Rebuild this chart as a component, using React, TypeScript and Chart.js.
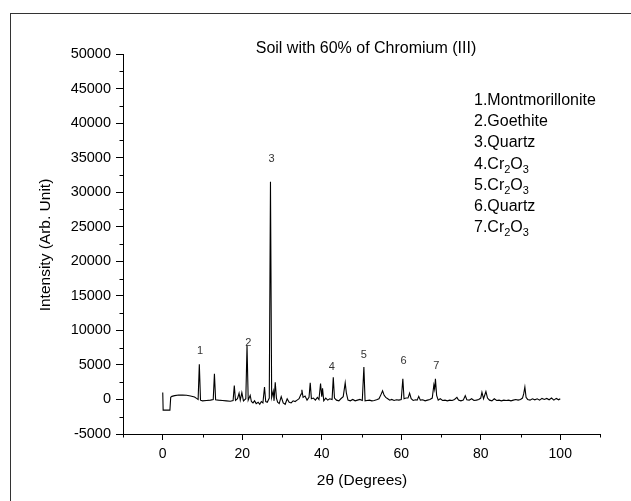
import React, { useEffect, useRef } from "react";
import { Chart, registerables } from "chart.js";

Chart.register(...registerables);

// 2θ (degrees)
const X_DEG: number[] = [
  0, 0.1, 1.8, 2.0, 2.3, 3, 4, 5, 6, 7, 8, 8.5, 8.9, 9.2, 9.5, 10, 11, 12, 12.7, 13.0,
  13.3, 14, 15, 16, 17, 17.7, 18.0, 18.3, 18.8, 19.2, 19.5, 19.9, 20.3, 20.9, 21.2, 21.5, 22.0, 22.3, 22.7, 23.1,
  23.5, 24.0, 24.4, 24.8, 25.2, 25.6, 25.9, 26.3, 26.8, 27.1, 27.4, 27.8, 28.0, 28.3, 28.6, 28.9, 29.3, 29.8, 30.3, 30.8,
  31.3, 31.8, 32.3, 32.8, 33.3, 33.8, 34.3, 34.8, 35.0, 35.3, 35.8, 36.3, 36.8, 37.1, 37.4, 37.9, 38.4, 38.9, 39.3, 39.7,
  40.0, 40.2, 40.5, 41.0, 41.5, 42.0, 42.6, 42.9, 43.2, 43.7, 44.3, 44.8, 45.4, 45.9, 46.2, 46.6, 47.2, 47.8, 48.4, 49.0,
  49.6, 50.2, 50.6, 50.9, 51.4, 52.0, 52.6, 53.2, 53.8, 54.4, 54.9, 55.3, 55.7, 56.1, 56.6, 57.1, 57.6, 58.2, 58.8, 59.4,
  60.0, 60.4, 60.7, 61.2, 61.7, 62.1, 62.5, 63.0, 63.6, 64.0, 64.4, 64.8, 65.4, 66.0, 66.6, 67.2, 67.8, 68.2, 68.4, 68.6,
  68.9, 69.3, 69.8, 70.4, 71.0, 71.6, 72.2, 72.8, 73.4, 74.0, 74.4, 75.0, 75.6, 76.1, 76.5, 77.1, 77.7, 78.3, 78.9, 79.5,
  80.0, 80.3, 80.7, 81.3, 81.7, 82.2, 82.8, 83.4, 84.0, 84.6, 85.2, 85.8, 86.4, 87.0, 87.6, 88.2, 88.8, 89.4, 90.0, 90.5,
  90.8, 91.1, 91.4, 91.8, 92.4, 93.0, 93.6, 94.2, 94.8, 95.4, 96.0, 96.6, 97.2, 97.8, 98.4, 99.0, 99.6, 100,
];

// Intensity (Arb. Unit)
const INTENSITY: number[] = [
  1000, -1550, -1550, 300, 450, 550, 650, 620, 600, 500, 350, 150, 0, 5100, -100, -200, -150, -100, 0, 3700,
  -50, -100, -150, -200, -250, -150, 2000, -150, 100, 900, -100, 1000, -200, 100, 7800, -100, 600, -300, -500, -200,
  -600, -400, -700, -300, -500, 1800, -300, -400, 200, 31500, 300, 1200, -200, 2500, 200, -400, -600, 400, -500, -700,
  100, -400, -500, -200, -300, -100, 100, 800, 1400, 300, 500, -100, 300, 2400, 100, 200, -100, 300, 0, 2300,
  400, 1600, -200, 200, -100, 100, 0, 3200, 200, -100, -200, 100, 400, 2400, 900, -100, -200, 0, -200, -100,
  0, -150, 4700, -200, -150, -100, -200, -150, -50, 100, 700, 1250, 600, 300, 100, -100, 0, -150, -50, -100,
  0, 3000, 100, 200, 200, 900, 100, -150, -50, -100, 450, -100, -50, -200, -100, 0, 200, 2100, 1500, 3000,
  600, -100, 100, -150, -100, -200, -100, -150, 0, 300, -100, -200, -100, 550, -50, -100, 100, -150, -100, 0,
  200, 1050, 100, 1150, 200, -100, -200, 100, -150, -100, -200, -100, -150, -100, -200, -100, 0, -100, 0, 200,
  800, 1800, 300, 0, -100, 100, -50, 100, -100, 150, 0, 150, -50, 200, -100, 150, -50, 100,
];

// Peak annotations (number, 2θ position, intensity position)
const PEAK_IDS: string[] = ["1", "2", "3", "4", "5", "6", "7"];
const PEAK_LABEL_X: number[] = [9.4, 21.5, 27.4, 42.5, 50.6, 60.6, 68.8];
const PEAK_LABEL_Y: number[] = [7040, 8200, 34800, 4720, 6410, 5590, 4820];

// Phase list (text segments, second element true = subscript)
const PHASES: [string, boolean][][] = [
  [["1.Montmorillonite", false]],
  [["2.Goethite", false]],
  [["3.Quartz", false]],
  [["4.Cr", false], ["2", true], ["O", false], ["3", true]],
  [["5.Cr", false], ["2", true], ["O", false], ["3", true]],
  [["6.Quartz", false]],
  [["7.Cr", false], ["2", true], ["O", false], ["3", true]],
];

const X_TICKS: number[] = [0, 20, 40, 60, 80, 100];
const X_MINOR: number[] = [-10, 10, 30, 50, 70, 90, 110];
const Y_TICKS: number[] = [-5000, 0, 5000, 10000, 15000, 20000, 25000, 30000, 35000, 40000, 45000, 50000];
const Y_MINOR: number[] = [-2500, 2500, 7500, 12500, 17500, 22500, 27500, 32500, 37500, 42500, 47500];

const TITLE = "Soil with 60% of Chromium (III)";
const X_TITLE = "2θ (Degrees)";
const Y_TITLE = "Intensity (Arb. Unit)";

const FONT = "'Liberation Sans', Arial, Helvetica, sans-serif";

export default function App() {
  const ref = useRef<HTMLCanvasElement | null>(null);

  useEffect(() => {
    const canvas = ref.current;
    if (!canvas) return;

    const decor = {
      id: "decor",
      beforeDraw(chart: any) {
        const ctx = chart.ctx;
        ctx.save();
        ctx.fillStyle = "#ffffff";
        ctx.fillRect(0, 0, chart.width, chart.height);
        ctx.strokeStyle = "#333333";
        ctx.lineWidth = 1;
        ctx.strokeRect(10.5, 13.5, 700, 600);
        ctx.restore();
      },
      afterDraw(chart: any) {
        const ctx = chart.ctx;
        const xs = chart.scales.x;
        const ys = chart.scales.y;
        const area = chart.chartArea;
        ctx.save();
        // minor ticks
        ctx.strokeStyle = "#000";
        ctx.lineWidth = 1;
        ctx.beginPath();
        for (const v of Y_MINOR) {
          const py = Math.round(ys.getPixelForValue(v)) + 0.5;
          ctx.moveTo(area.left - 3.5, py);
          ctx.lineTo(area.left, py);
        }
        for (const v of X_MINOR) {
          const px = Math.round(xs.getPixelForValue(v)) + 0.5;
          ctx.moveTo(px, area.bottom);
          ctx.lineTo(px, area.bottom + 3.5);
        }
        ctx.stroke();

        // title
        ctx.fillStyle = "#000";
        ctx.textAlign = "center";
        ctx.textBaseline = "alphabetic";
        ctx.font = `16px ${FONT}`;
        ctx.fillText(TITLE, 366, 53);

        // axis titles
        ctx.font = `15.5px ${FONT}`;
        ctx.fillText(X_TITLE, 362, 485);
        ctx.save();
        ctx.translate(50, 245);
        ctx.rotate(-Math.PI / 2);
        ctx.font = `15.5px ${FONT}`;
        ctx.fillText(Y_TITLE, 0, 0);
        ctx.restore();

        // peak numbers
        ctx.fillStyle = "#333";
        ctx.font = `11px ${FONT}`;
        ctx.textBaseline = "middle";
        PEAK_IDS.forEach((id, i) => {
          ctx.fillText(id, xs.getPixelForValue(PEAK_LABEL_X[i]), ys.getPixelForValue(PEAK_LABEL_Y[i]));
        });

        // phase list
        ctx.fillStyle = "#000";
        ctx.textAlign = "left";
        ctx.textBaseline = "alphabetic";
        PHASES.forEach((segs, i) => {
          let x = 474;
          const y = 105 + i * 21.2;
          for (const [t, sub] of segs) {
            ctx.font = sub ? `11px ${FONT}` : `16px ${FONT}`;
            ctx.fillText(t, x, sub ? y + 4 : y);
            x += ctx.measureText(t).width;
          }
        });
        ctx.restore();
      },
    };

    const chart = new Chart(canvas, {
      type: "line",
      data: {
        datasets: [
          {
            data: X_DEG.map((x, i) => ({ x, y: INTENSITY[i] })),
            borderColor: "#000000",
            borderWidth: 1.1,
            pointRadius: 0,
            tension: 0,
            fill: false,
          },
        ],
      },
      options: {
        animation: false,
        responsive: false,
        devicePixelRatio: 1,
        layout: { padding: { left: 0, top: 54, right: 31, bottom: 27 } },
        plugins: { legend: { display: false }, tooltip: { enabled: false }, title: { display: false } },
        scales: {
          x: {
            type: "linear",
            min: -10,
            max: 110,
            afterBuildTicks: (s: any) => {
              s.ticks = X_TICKS.map((v) => ({ value: v }));
            },
            afterFit: (s: any) => {
              s.height = 40;
            },
            grid: { drawOnChartArea: false, drawTicks: true, tickLength: 6, color: "#000", tickColor: "#000" },
            border: { display: true, color: "#000", width: 1 },
            ticks: {
              color: "#000",
              font: { family: FONT, size: 14 },
              padding: 6,
              maxRotation: 0,
              autoSkip: false,
              callback: (v: any) => String(v),
            },
          },
          y: {
            type: "linear",
            min: -5000,
            max: 50000,
            afterBuildTicks: (s: any) => {
              s.ticks = Y_TICKS.map((v) => ({ value: v }));
            },
            afterFit: (s: any) => {
              s.width = 123;
            },
            grid: { drawOnChartArea: false, drawTicks: true, tickLength: 7, color: "#000", tickColor: "#000" },
            border: { display: true, color: "#000", width: 1 },
            ticks: {
              color: "#000",
              font: { family: FONT, size: 14.5 },
              padding: 5,
              autoSkip: false,
              callback: (v: any) => String(v),
            },
          },
        },
      },
      plugins: [decor],
    } as any);

    return () => chart.destroy();
  }, []);

  return (
    <div style={{ position: "absolute", left: 0, top: 0, width: 631, height: 501, background: "#fff" }}>
      <canvas ref={ref} width={631} height={501} style={{ display: "block", width: 631, height: 501 }} />
    </div>
  );
}
